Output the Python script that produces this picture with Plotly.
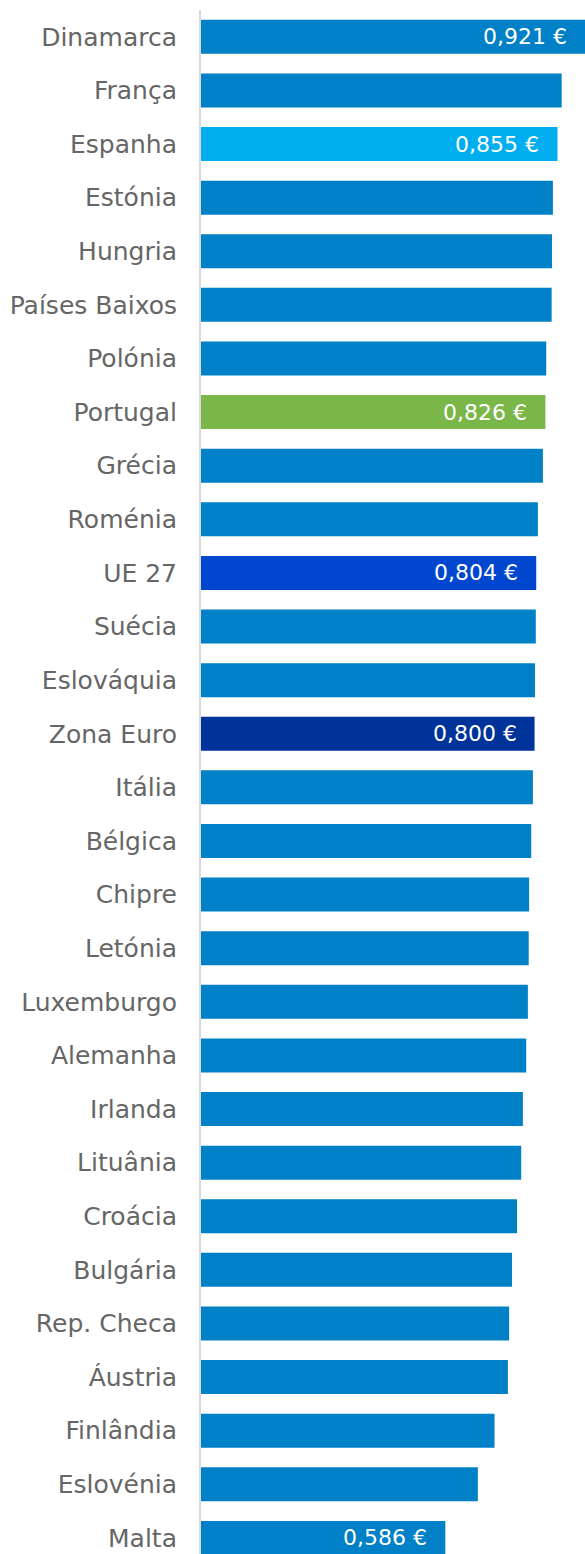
import plotly.graph_objects as go

countries = ["Dinamarca", "França", "Espanha", "Estónia", "Hungria", "Países Baixos",
             "Polónia", "Portugal", "Grécia", "Roménia", "UE 27", "Suécia", "Eslováquia",
             "Zona Euro", "Itália", "Bélgica", "Chipre", "Letónia", "Luxemburgo", "Alemanha",
             "Irlanda", "Lituânia", "Croácia", "Bulgária", "Rep. Checa", "Áustria",
             "Finlândia", "Eslovénia", "Malta"]
values = [0.921, 0.865, 0.855, 0.844, 0.842, 0.841, 0.828, 0.826, 0.820, 0.808, 0.804,
          0.803, 0.801, 0.800, 0.796, 0.792, 0.787, 0.786, 0.784, 0.780, 0.772, 0.768,
          0.758, 0.746, 0.739, 0.736, 0.704, 0.664, 0.586]
value_labels = ["0,921 €", "", "0,855 €", "", "", "", "", "0,826 €", "", "", "0,804 €",
                "", "", "0,800 €", "", "", "", "", "", "", "", "", "", "", "", "", "", "", "0,586 €"]

base_color = "#0080C6"
highlight = {"Espanha": "#00AEEF", "Portugal": "#7AB648", "UE 27": "#0046CF", "Zona Euro": "#00339A"}
colors = [highlight.get(c, base_color) for c in countries]

fig = go.Figure(go.Bar(
    x=values, y=countries, orientation="h",
    marker=dict(color=colors, line=dict(width=0)),
    hoverinfo="skip",
))

for c, v, t in zip(countries, values, value_labels):
    if t:
        fig.add_annotation(x=v, y=c, text=t, showarrow=False, xanchor="right",
                           xshift=-16, yshift=0,
                           font=dict(family="DejaVu Sans", size=22, color="white"))

fig.update_layout(
    width=585, height=1554,
    margin=dict(l=201, r=0, t=10, b=0),
    paper_bgcolor="white", plot_bgcolor="white",
    bargap=0.366,
    showlegend=False,
    xaxis=dict(range=[0, 0.921], visible=False, fixedrange=True),
    yaxis=dict(categoryorder="array", categoryarray=countries,
               range=[28.3, -0.5], fixedrange=True,
               showline=True, linecolor="#D9D9D9", linewidth=2,
               showgrid=False, ticks="", ticklabelstandoff=17,
               tickfont=dict(family="DejaVu Sans", size=25, color="#666666")),
)

fig.write_html("out.html", config={"displayModeBar": False},
               post_script="document.body.style.margin='0';document.body.style.overflow='hidden';")
